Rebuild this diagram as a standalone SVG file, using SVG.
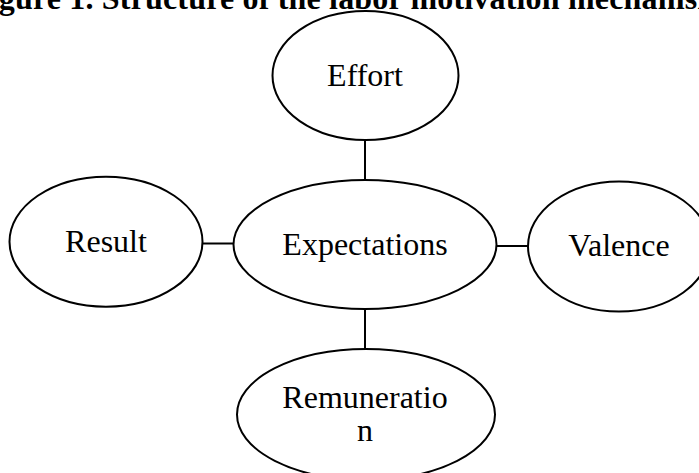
<svg xmlns="http://www.w3.org/2000/svg" width="699" height="473" viewBox="0 0 699 473">
  <style>
    .node ellipse { fill: #ffffff; stroke: #000000; stroke-width: 2; }
    .node text { font-family: "Liberation Serif", "Times New Roman", serif; font-size: 32px; fill: #000000; text-anchor: middle; }
    .links line { stroke: #000000; stroke-width: 2; }
    .title { font-family: "Liberation Serif", "Times New Roman", serif; font-size: 32px; font-weight: bold; fill: #000000; text-anchor: middle; }
  </style>
  <rect width="699" height="473" fill="#ffffff"/>

  <!-- caption, partly above the top edge -->
  <text class="title" x="347" y="9" textLength="754" lengthAdjust="spacing">Figure 1. Structure of the labor motivation mechanism</text>

  <!-- connectors -->
  <g id="links" class="links">
    <line x1="365" y1="140" x2="365" y2="180"/>
    <line x1="365" y1="309" x2="365" y2="349"/>
    <line x1="202" y1="243.5" x2="234" y2="243.5"/>
    <line x1="496" y1="246" x2="529" y2="246"/>
  </g>

  <g id="effort" class="node">
    <ellipse cx="365.5" cy="75.5" rx="93" ry="64.5"/>
    <text x="365" y="86">Effort</text>
  </g>

  <g id="expectations" class="node">
    <ellipse cx="365" cy="244.5" rx="131.5" ry="64.5"/>
    <text x="365" y="255">Expectations</text>
  </g>

  <g id="result" class="node">
    <ellipse cx="106" cy="241.7" rx="96.5" ry="65"/>
    <text x="106" y="252">Result</text>
  </g>

  <g id="valence" class="node">
    <ellipse cx="619" cy="246.5" rx="91" ry="65"/>
    <text x="619" y="256">Valence</text>
  </g>

  <g id="remuneration" class="node">
    <ellipse cx="366" cy="414.5" rx="129" ry="65.5"/>
    <text x="365" y="408">Remuneratio</text>
    <text x="365" y="441">n</text>
  </g>
</svg>
